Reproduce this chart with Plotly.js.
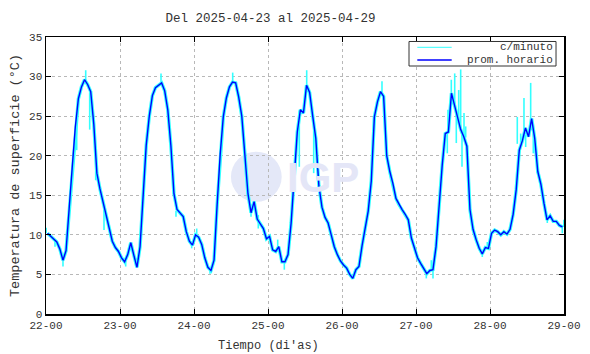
<!DOCTYPE html>
<html>
<head>
<meta charset="utf-8">
<script src="https://cdn.plot.ly/plotly-3.0.1.min.js"></script>
<style>html,body{margin:0;padding:0;background:#fff;}#chart{width:590px;height:354px;}</style>
</head>
<body>
<div id="chart"></div>
<script>
// Hourly averages (prom. horario), one per hour from 22-00, plotted at mid-hour
const day22 = [10.2, 9.8, 9.5, 9.1, 8.2, 6.8, 8.0, 12.8, 18.5, 23.6, 27.2, 28.7, 29.6, 29.0, 28.1, 24.0, 17.8, 15.8, 14.1, 12.5, 10.7, 9.2, 8.4, 7.9];
const day23 = [7.1, 6.6, 7.5, 9.0, 7.4, 5.9, 8.5, 14.8, 21.3, 25.0, 27.6, 28.6, 28.9, 29.2, 28.2, 25.8, 21.3, 15.2, 13.2, 12.8, 12.3, 10.4, 9.2, 8.7];
const day24 = [10.0, 9.7, 8.8, 7.1, 5.9, 5.5, 6.8, 13.8, 20.2, 24.9, 27.3, 28.7, 29.3, 29.2, 27.4, 25.0, 20.2, 15.2, 12.8, 14.2, 12.0, 11.4, 10.8, 9.5];
const day25 = [9.8, 8.1, 7.9, 8.5, 6.6, 6.6, 7.5, 11.5, 17.8, 23.0, 25.8, 25.4, 28.9, 28.0, 25.0, 22.2, 16.2, 13.5, 12.2, 11.5, 10.0, 8.5, 7.5, 6.7];
const day26 = [6.2, 5.8, 5.0, 4.5, 5.6, 6.0, 8.6, 10.6, 13.0, 16.8, 24.9, 26.8, 28.1, 27.5, 20.0, 18.0, 16.5, 14.6, 13.8, 13.2, 12.6, 11.9, 9.6, 8.4];
const day27 = [7.1, 6.4, 5.8, 5.1, 5.5, 5.6, 8.5, 13.8, 18.8, 22.8, 23.0, 27.9, 26.4, 24.8, 23.3, 22.4, 21.2, 13.2, 10.7, 9.4, 8.3, 7.6, 8.4, 8.3];
const day28 = [10.2, 10.6, 10.4, 10.0, 10.4, 10.1, 10.7, 12.6, 15.7, 20.7, 21.9, 23.5, 22.4, 24.7, 22.2, 18.0, 16.4, 14.0, 11.9, 12.4, 11.7, 11.7, 11.2, 11.0];

// Per-minute excursions visible beyond the hourly line (hours since 22-00)
const spikeHours = [0.05, 2.92, 5.51, 9.96, 12.88, 14.17, 16.12, 18.81, 25.85, 37.30, 42.16, 47.25, 48.88, 53.19, 60.55, 66.49, 68.85, 75.15, 77.29, 82.15, 84.55, 86.82, 108.97, 123.34, 124.96, 125.51, 130.15, 130.37, 131.45, 132.55, 133.07, 133.85, 134.49, 134.92, 135.57, 136.12, 141.50, 143.12, 152.85, 153.95, 155.02, 155.57, 157.19, 158.04, 159.34, 162.58, 167.45, 167.95];
const spikeBase  = [10.2, 9.2, 6.8, 25.5, 29.4, 28.0, 19.5, 13.2, 7.0, 29.1, 13.0, 8.8, 9.9, 5.6, 29.3, 12.9, 12.5, 8.3, 6.6, 25.7, 28.5, 24.0, 27.8, 5.3, 5.5, 5.6, 23.0, 23.0, 27.7, 26.4, 25.5, 24.5, 23.5, 23.2, 22.6, 22.3, 7.6, 8.4, 21.5, 22.8, 23.0, 22.6, 24.0, 22.8, 19.0, 12.0, 11.0, 11.0];
const spikeTip   = [10.9, 8.5, 6.0, 20.7, 30.8, 23.3, 16.9, 10.6, 6.0, 30.4, 12.3, 8.3, 10.8, 5.1, 30.5, 12.3, 10.8, 9.4, 5.6, 18.6, 30.8, 17.8, 29.4, 4.5, 6.8, 4.5, 20.3, 25.8, 29.6, 30.4, 21.6, 28.3, 30.9, 18.6, 25.4, 23.7, 7.2, 9.1, 24.9, 21.6, 27.3, 21.1, 29.2, 20.3, 17.8, 11.5, 10.2, 11.9];

const xTickVals = [0, 24, 48, 72, 96, 120, 144, 168];
const xTickText = ["22-00", "23-00", "24-00", "25-00", "26-00", "27-00", "28-00", "29-00"];

const hourly = [].concat(day22, day23, day24, day25, day26, day27, day28);
const hourlyX = hourly.map((v, i) => i + 0.5);

const sx = [], sy = [];
spikeHours.forEach((h, i) => { sx.push(h, h, null); sy.push(spikeBase[i], spikeTip[i], null); });

const font = "'Liberation Mono', monospace";
const txt = "#333";
const CYAN = "#33ffff";

const traces = [
  {x: hourlyX, y: hourly, type: "scatter", mode: "lines", showlegend: false, line: {color: CYAN, width: 3.4}},
  {x: sx, y: sy, type: "scatter", mode: "lines", showlegend: false, connectgaps: false, line: {color: CYAN, width: 1.6}},
  {x: hourlyX, y: hourly, type: "scatter", mode: "lines", showlegend: false, line: {color: "#0000ff", width: 1.4}}
];

// legend box geometry (paper coords)
const lgX0 = 0.7008, lgX1 = 0.9846, lgY0 = 0.8953, lgY1 = 0.9838;
const row1 = 0.9628, row2 = 0.9170, smpX0 = 0.7168, smpX1 = 0.7832, txtX = 0.982;

const layout = {
  width: 590, height: 354,
  margin: {l: 46, r: 26, t: 37, b: 40},
  paper_bgcolor: "#fff", plot_bgcolor: "#fff",
  font: {family: font, size: 11, color: txt},
  title: {text: "Del 2025-04-23 al 2025-04-29", font: {family: font, size: 12.5, color: txt}, xref: "paper", x: 0.4334, xanchor: "center", y: 0.95, yanchor: "middle"},
  showlegend: false,
  xaxis: {range: [0, 168], tickmode: "array", tickvals: xTickVals, ticktext: xTickText,
          ticks: "inside", ticklen: 5, tickcolor: "#000", mirror: "ticks", showline: true, linecolor: "#000", linewidth: 1.5,
          showgrid: true, gridcolor: "#b8b8b8", griddash: "dot", gridwidth: 1, zeroline: false},
  yaxis: {range: [0, 35], dtick: 5, tick0: 0,
          ticks: "inside", ticklen: 5, tickcolor: "#000", mirror: "ticks", showline: true, linecolor: "#000", linewidth: 1.5,
          showgrid: true, gridcolor: "#b8b8b8", griddash: "dot", gridwidth: 1, zeroline: false,
          title: {text: "Temperatura de superficie (°C)", font: {family: font, size: 13.5, color: txt}, standoff: 6}},
  shapes: [
    {type: "circle", xref: "paper", yref: "paper", layer: "below", x0: 0.357, x1: 0.455, y0: 0.405, y1: 0.586,
     fillcolor: "#e4e8f8", line: {width: 0}},
    {type: "rect", xref: "paper", yref: "paper", x0: lgX0, x1: lgX1, y0: lgY0, y1: lgY1,
     fillcolor: "#fff", line: {color: "#333", width: 1}},
    {type: "line", xref: "paper", yref: "paper", x0: smpX0, x1: smpX1, y0: row1, y1: row1, line: {color: CYAN, width: 1}},
    {type: "line", xref: "paper", yref: "paper", x0: smpX0, x1: smpX1, y0: row2, y1: row2, line: {color: "#0000ff", width: 1.5}}
  ],
  annotations: [
    {text: "<b>IGP</b>", xref: "paper", yref: "paper", x: 0.534, y: 0.493, showarrow: false,
     font: {family: "'Liberation Sans', sans-serif", size: 42, color: "#e4e6f7"}},
    {text: "c/minuto", xref: "paper", yref: "paper", x: txtX, y: row1, xanchor: "right", yanchor: "middle", showarrow: false,
     font: {family: font, size: 11, color: txt}},
    {text: "prom. horario", xref: "paper", yref: "paper", x: txtX, y: row2, xanchor: "right", yanchor: "middle", showarrow: false,
     font: {family: font, size: 11, color: txt}},
    {text: "Tiempo (di'as)", xref: "paper", yref: "paper", x: 0.4295, y: -0.1155, xanchor: "center", yanchor: "middle", showarrow: false,
     font: {family: font, size: 12, color: txt}}
  ]
};

Plotly.newPlot("chart", traces, layout, {displayModeBar: false, staticPlot: true});
</script>
</body>
</html>
